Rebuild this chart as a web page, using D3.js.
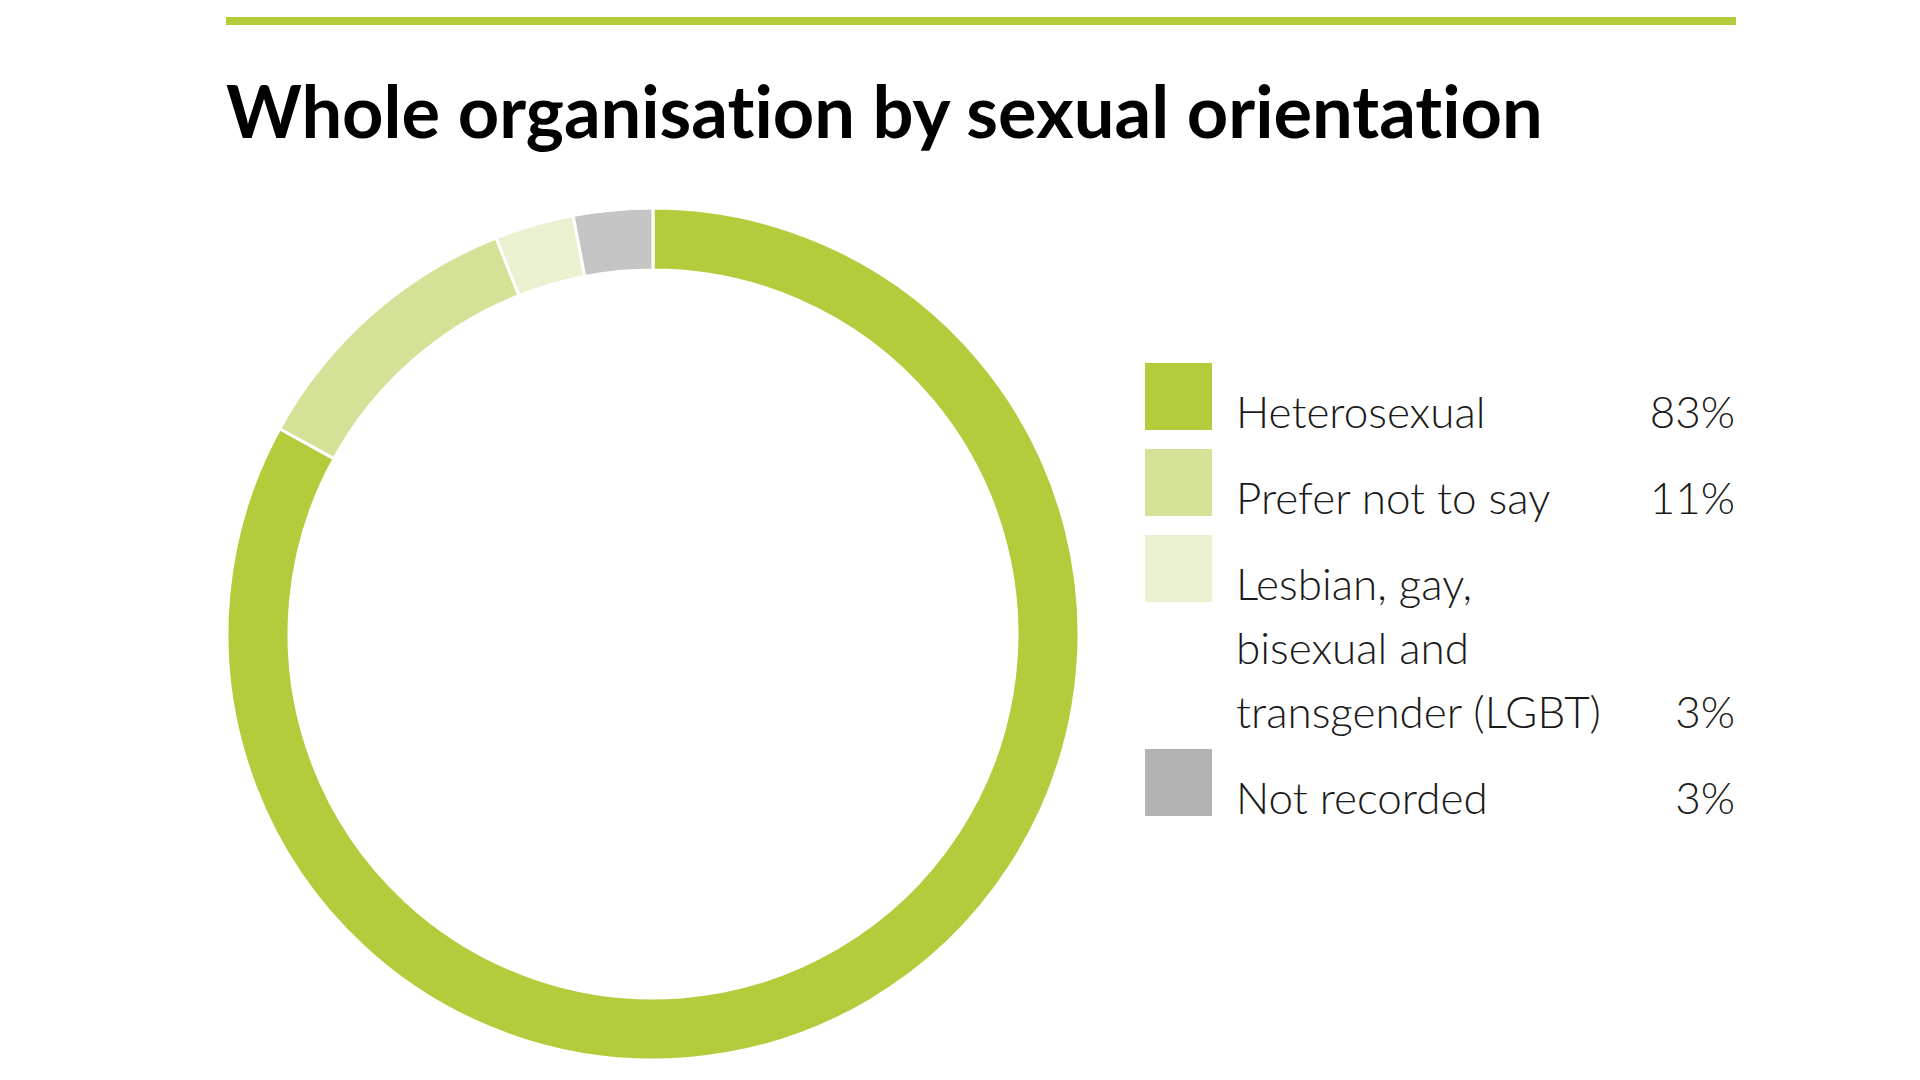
<!DOCTYPE html>
<html>
<head>
<meta charset="utf-8">
<script src="https://cdn.jsdelivr.net/npm/d3@7"></script>
<style>
  html, body { margin: 0; padding: 0; background: #fff; }
  svg { display: block; }
  text { font-variant-ligatures: none; }
</style>
</head>
<body>
<div id="chart"></div>
<script>
// data
var categories = ["Heterosexual", "Prefer not to say", "Lesbian, gay, bisexual and transgender (LGBT)", "Not recorded"];
var values = [83, 11, 3, 3];
var legendLines = [["Heterosexual"], ["Prefer not to say"], ["Lesbian, gay,", "bisexual and", "transgender (LGBT)"], ["Not recorded"]];
var labels = ["83%", "11%", "3%", "3%"];

// colours
var ringColors = ["#b2cc3c", "#d4e297", "#e9f1d0", "#c5c5c5"];
var swatchColors = ["#b2cc3c", "#d4e297", "#e9f1d0", "#b3b3b3"];

var width = 1920;
var height = 1080;

var svg = d3.select("#chart")
    .append("svg")
    .attr("width", width)
    .attr("height", height);

// green rule on top
svg.append("rect")
    .attr("x", 226)
    .attr("y", 17)
    .attr("width", 1736 - 226)
    .attr("height", 8)
    .attr("fill", "#b2cc3c");

// title, fitted to the width it takes in the reference
var title = svg.append("text")
    .attr("x", 226)
    .attr("y", 138)
    .text("Whole organisation by sexual orientation")
    .attr("font-family", "Lato, 'Open Sans', sans-serif")
    .attr("font-weight", 700)
    .attr("font-size", 70)
    .attr("fill", "#000");
var tw = title.node().getComputedTextLength();
title.attr("font-size", 70 * 1317 / tw);

// donut
var cx = 653, cy = 634;
var outerR = 426, innerR = 364;

var pie = d3.pie().sort(null).value(function(d) { return d; });
var arc = d3.arc().innerRadius(innerR).outerRadius(outerR);

var ring = svg.append("g")
    .attr("transform", "translate(" + cx + "," + cy + ")");

ring.selectAll("path")
    .data(pie(values))
    .enter()
    .append("path")
    .attr("d", arc)
    .attr("fill", function(d, i) { return ringColors[i]; })
    .attr("stroke", "#fff")
    .attr("stroke-width", 3);

// legend
var swatch = 67;
var rowGap = 86;
var lineH = 64;
var legendX = 1145;
var textX = 1236;
var valueX = 1735;

var legend = svg.append("g").attr("class", "legend");
var y = 363;
categories.forEach(function(c, i) {
    var lines = legendLines[i];
    legend.append("rect")
        .attr("x", legendX)
        .attr("y", y)
        .attr("width", swatch)
        .attr("height", swatch)
        .attr("fill", swatchColors[i]);

    var base = y + 65;
    lines.forEach(function(l, j) {
        legend.append("text")
            .attr("x", textX)
            .attr("y", base + j * lineH)
            .text(l)
            .attr("font-family", "Lato, 'Open Sans', sans-serif")
            .attr("font-weight", 300)
            .attr("font-size", 44)
            .attr("fill", "#1a1a1a");
    });

    legend.append("text")
        .attr("x", valueX)
        .attr("y", base + (lines.length - 1) * lineH)
        .attr("text-anchor", "end")
        .text(labels[i])
        .attr("font-family", "Lato, 'Open Sans', sans-serif")
        .attr("font-weight", 300)
        .attr("font-size", 44)
        .attr("fill", "#1a1a1a");

    y = y + (lines.length - 1) * lineH + rowGap;
});
</script>
</body>
</html>
